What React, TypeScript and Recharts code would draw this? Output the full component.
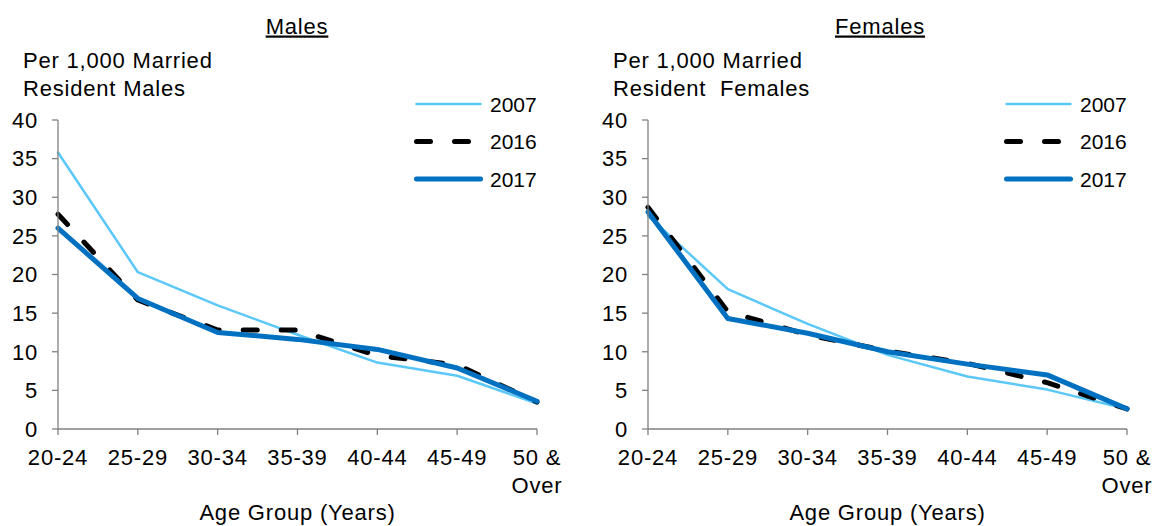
import React from "react";
import { LineChart, Line, XAxis, YAxis } from "recharts";

const AGE_GROUPS = ["20-24", "25-29", "30-34", "35-39", "40-44", "45-49", "50 &\nOver"];
const Y_TICKS = [0, 5, 10, 15, 20, 25, 30, 35, 40];

const MALES_2007 = [35.8, 20.3, 16.0, 12.2, 8.6, 6.9, 3.3];
const MALES_2016 = [27.8, 16.7, 12.8, 12.8, 9.5, 8.3, 3.5];
const MALES_2017 = [26.0, 16.9, 12.5, 11.6, 10.3, 7.9, 3.6];

const FEMALES_2007 = [27.6, 18.1, 13.6, 9.6, 6.8, 5.1, 2.6];
const FEMALES_2016 = [28.7, 15.2, 12.2, 10.1, 8.5, 6.0, 2.6];
const FEMALES_2017 = [28.1, 14.3, 12.4, 10.0, 8.4, 7.0, 2.6];

const SERIES = [
  { key: "y2007", name: "2007", stroke: "#5BC8F8", width: 2.5, dash: undefined as string | undefined },
  { key: "y2016", name: "2016", stroke: "#000000", width: 5, dash: "14 24" },
  { key: "y2017", name: "2017", stroke: "#0070C0", width: 5, dash: undefined as string | undefined },
];

const FONT = '"Liberation Sans", Arial, sans-serif';
const FS = 22;
const LS = "0.8px";
const AXIS_COLOR = "#808080";

function buildRows(v07: number[], v16: number[], v17: number[]) {
  return AGE_GROUPS.map((age, i) => ({ age, y2007: v07[i], y2016: v16[i], y2017: v17[i] }));
}

function AgeTick(props: any) {
  const { x, y, payload } = props;
  const lines = String(payload.value).split("\n");
  return (
    <text
      x={x}
      y={y}
      textAnchor="middle"
      fontFamily={FONT}
      fontSize={FS}
      fill="#000"
      style={{ letterSpacing: LS }}
    >
      {lines.map((l, i) => (
        <tspan key={i} x={x} dy={i === 0 ? 16 : 28}>
          {l}
        </tspan>
      ))}
    </text>
  );
}

function LegendBox({ x, y }: { x: number; y: number }) {
  return (
    <g transform={`translate(${x},${y})`}>
      {SERIES.map((s, i) => {
        const cy = 19 + i * 37.5;
        return (
          <g key={s.key}>
            <line
              x1={4.5}
              x2={68.5}
              y1={cy}
              y2={cy}
              stroke={s.stroke}
              strokeWidth={s.width}
              strokeDasharray={s.dash}
              strokeLinecap="round"
            />
            <text x={78} y={cy + 7.5} fontFamily={FONT} fontSize={21} fill="#000">
              {s.name}
            </text>
          </g>
        );
      })}
    </g>
  );
}

type PanelProps = {
  left: number;
  title: string;
  titleX: number;
  yLabel: string[];
  data: any[];
};

function Panel({ left, title, titleX, yLabel, data }: PanelProps) {
  return (
    <div style={{ position: "absolute", left, top: 0, width: 580, height: 526 }}>
      <LineChart
        width={580}
        height={526}
        data={data}
        margin={{ top: 120, right: 43, bottom: 67, left: 18 }}
      >
        <XAxis
          dataKey="age"
          interval={0}
          tick={<AgeTick />}
          tickSize={6}
          tickMargin={14}
          height={30}
          axisLine={{ stroke: AXIS_COLOR, strokeWidth: 1.3 }}
          tickLine={{ stroke: AXIS_COLOR, strokeWidth: 1.3 }}
        />
        <YAxis
          domain={[0, 40]}
          ticks={Y_TICKS}
          interval={0}
          width={40}
          tickSize={6}
          tickMargin={14}
          tick={{ fontFamily: FONT, fontSize: FS, fill: "#000", style: { letterSpacing: LS } } as any}
          axisLine={{ stroke: AXIS_COLOR, strokeWidth: 1.3 }}
          tickLine={{ stroke: AXIS_COLOR, strokeWidth: 1.3 }}
        />
        {SERIES.map((s) => (
          <Line
            key={s.key}
            type="linear"
            dataKey={s.key}
            name={s.name}
            stroke={s.stroke}
            strokeWidth={s.width}
            strokeDasharray={s.dash}
            strokeLinecap="round"
            strokeLinejoin="round"
            dot={false}
            activeDot={false}
            isAnimationActive={false}
          />
        ))}
      </LineChart>
      <svg
        width={580}
        height={526}
        style={{ position: "absolute", left: 0, top: 0, pointerEvents: "none" }}
      >
        <text
          x={titleX}
          y={33.5}
          textAnchor="middle"
          fontFamily={FONT}
          fontSize={FS}
          fill="#000"
          textDecoration="underline"
          style={{ letterSpacing: LS }}
        >
          {title}
        </text>
        {yLabel.map((l, i) => (
          <text
            key={i}
            x={23}
            y={68 + i * 28}
            fontFamily={FONT}
            fontSize={FS}
            fill="#000"
            style={{ letterSpacing: LS, whiteSpace: "pre" }}
          >
            {l}
          </text>
        ))}
        <text
          x={297.5}
          y={520}
          textAnchor="middle"
          fontFamily={FONT}
          fontSize={FS}
          fill="#000"
          style={{ letterSpacing: LS }}
        >
          Age Group (Years)
        </text>
        <LegendBox x={412} y={85} />
      </svg>
    </div>
  );
}

export default function App() {
  const males = buildRows(MALES_2007, MALES_2016, MALES_2017);
  const females = buildRows(FEMALES_2007, FEMALES_2016, FEMALES_2017);
  return (
    <div
      style={{
        position: "absolute",
        left: 0,
        top: 0,
        width: 1154,
        height: 526,
        background: "#fff",
        overflow: "hidden",
      }}
    >
      <Panel
        left={0}
        title="Males"
        titleX={297}
        yLabel={["Per 1,000 Married", "Resident Males"]}
        data={males}
      />
      <Panel
        left={590}
        title="Females"
        titleX={290}
        yLabel={["Per 1,000 Married", "Resident  Females"]}
        data={females}
      />
    </div>
  );
}
